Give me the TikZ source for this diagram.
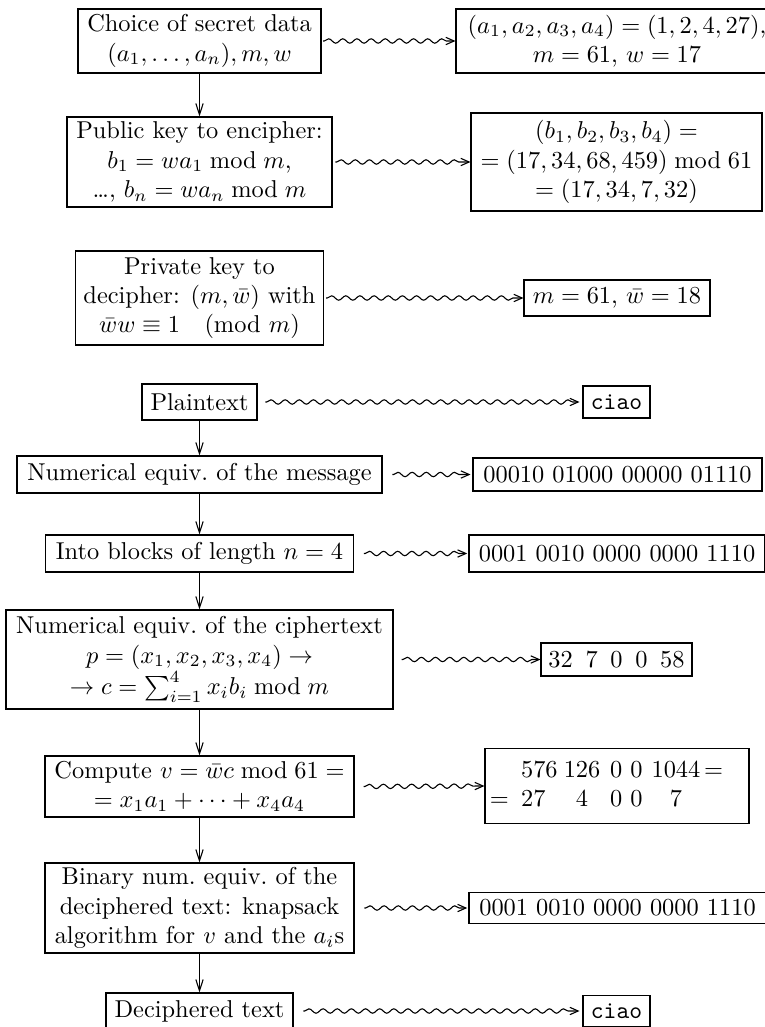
\documentclass[tikz,border=0pt]{standalone}
\usetikzlibrary{arrows.meta,decorations.pathmorphing}

% one drawing unit = 0.41pt, y grows downwards
\tikzset{
  cell/.style 2 args={draw, line width=0.45pt, inner sep=1pt, align=center,
    minimum width=#1*0.41pt, minimum height=#2*0.41pt},
  down/.style={-{Straight Barb[length=4.6pt,width=3pt]}, line width=0.45pt},
  wave/.style={-{Straight Barb[length=3.4pt,width=3pt]}, line width=0.45pt,
    decorate, decoration={snake, amplitude=0.9pt, segment length=5.8pt,
    pre length=0.5pt, post length=2.2pt}},
}

\begin{document}
\begin{tikzpicture}[x=0.41pt,y=-0.41pt]
\useasboundingbox (0,0) rectangle (765,1027);
\clip (0,0) rectangle (765,1027);

% ---- key generation ----
\node[cell={243}{64}] (s1) at (199.5,41)
  {Choice of secret data\\ $(a_1,\dots,a_n),m,w$};
\node[cell={322}{64}] (r1) at (617,41)
  {$(a_1,a_2,a_3,a_4)=(1,2,4,27)$,\\ $m=61$, $w=17$};

\node[cell={265}{90}] (s2) at (199.5,162)
  {Public key to encipher:\\ $b_1=wa_1 \bmod m$,\\ \dots, $b_n=wa_n \bmod m$};
\node[cell={291}{98}] (r2) at (616.5,162)
  {$(b_1,b_2,b_3,b_4)=$\\ $=(17,34,68,459)\bmod 61$\\ $=(17,34,7,32)$};

\node[cell={248}{94}] (s3) at (199.5,298)
  {Private key to\\ decipher: $(m,\bar w)$ with\\ $\bar w w\equiv 1 \pmod m$};
\node[cell={186}{36}] (r3) at (617,298) {$m=61$, $\bar w=18$};

% ---- enciphering and deciphering ----
\node[cell={115}{36}] (s4) at (199.5,402) {Plaintext};
\node[cell={67}{32}] (r4) at (616.5,402) {\texttt{ciao}};

\node[cell={365}{37}] (s5) at (199.5,474.5) {Numerical equiv.\ of the message};
\node[cell={289}{33}] (r5) at (617.5,474.5) {00010 01000 00000 01110};

\node[cell={308}{37}] (s6) at (199.5,553.5) {Into blocks of length $n=4$};
\node[cell={296}{37}] (r6) at (617,553.5) {0001 0010 0000 0000 1110};

\node[cell={387}{99}] (s7) at (199.5,659.5)
  {Numerical equiv.\ of the ciphertext\\ $p=(x_1,x_2,x_3,x_4)\to$\\
   $\to c=\sum_{i=1}^{4} x_ib_i \bmod m$};
\node[cell={151}{33}] (r7) at (616.5,659.5)
  {32\hspace{5.2pt}7\hspace{5.2pt}0\hspace{5.2pt}0\hspace{5.2pt}58};

\node[cell={309}{61}] (s8) at (199.5,786.5)
  {Compute $v=\bar w c \bmod 61=$\\ $=x_1a_1+\cdots+x_4a_4$};
\node[cell={264}{75}, align=left, inner xsep=2pt, text width=104.2pt] (r8) at (617,786)
  {$\begin{array}{@{}r@{\hspace{5pt}}l@{\hspace{2.5pt}}c@{\hspace{4pt}}c@{\hspace{3.3pt}}c@{\hspace{3.7pt}}c@{\hspace{1.5pt}}l@{}}
     & 576 & 126 & 0 & 0 & 1044 & {=}\\
   = & 27 & 4 & 0 & 0 & 7 &
   \end{array}$};

\node[cell={309}{90}] (s9) at (199.5,908)
  {Binary num.\ equiv.\ of the\\ deciphered text: knapsack\\ algorithm for $v$ and the $a_i$s};
\node[cell={297}{31}] (r9) at (617.5,908) {0001 0010 0000 0000 1110};

\node[cell={187}{36}] (s10) at (199.5,1011) {Deciphered text};
\node[cell={67}{31}] (r10) at (616.5,1011) {\texttt{ciao}};

% ---- flow down the left column ----
\draw[down] (s1) -- (s2);
\draw[down] (s4) -- (s5);
\draw[down] (s5) -- (s6);
\draw[down] (s6) -- (s7);
\draw[down] (s7) -- (s8);
\draw[down] (s8) -- (s9);
\draw[down] (s9) -- (s10);

% ---- worked example on the right ----
\draw[wave] ([xshift=0.6pt]s1.east) -- (r1.west);
\draw[wave] ([xshift=1.2pt]s2.east) -- (r2.west);
\draw[wave] ([xshift=0.8pt]s3.east) -- (r3.west);
\draw[wave] ([xshift=3.2pt]s4.east) -- ([xshift=-1.2pt]r4.west);
\draw[wave] ([xshift=4pt]s5.east) -- ([xshift=-0.8pt]r5.west);
\draw[wave] ([xshift=4pt]s6.east) -- ([xshift=-0.5pt]r6.west);
\draw[wave] ([xshift=3.3pt]s7.east) -- (r7.west);
\draw[wave] ([xshift=3.7pt]s8.east) -- (r8.west);
\draw[wave] ([xshift=4pt]s9.east) -- ([xshift=-0.5pt]r9.west);
\draw[wave] ([xshift=4pt]s10.east) -- ([xshift=-1.2pt]r10.west);
\end{tikzpicture}
\end{document}
